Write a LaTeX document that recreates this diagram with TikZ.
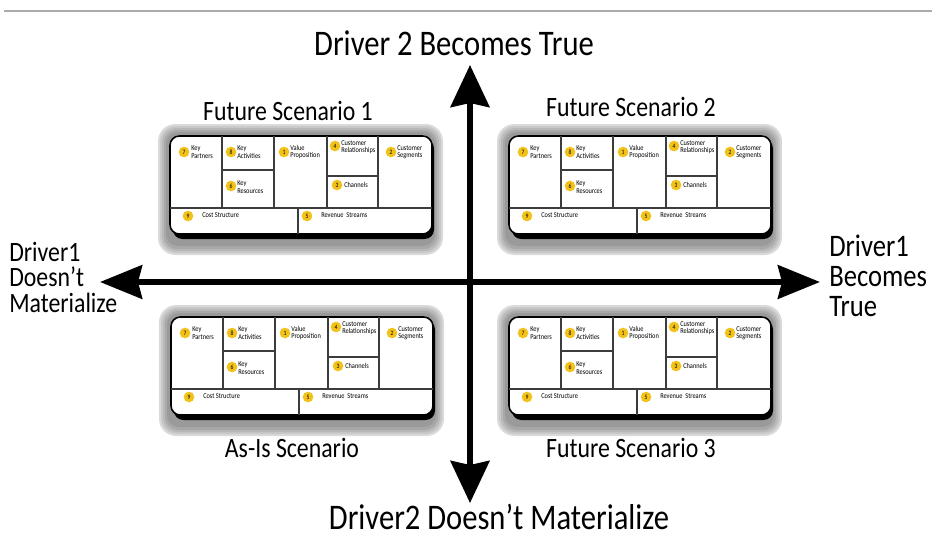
\documentclass[tikz,border=0pt]{standalone}
\usepackage{fontspec}
\newfontfamily\hand[FakeStretch=0.85]{Carlito}
\usetikzlibrary{arrows.meta}
\definecolor{blobyellow}{HTML}{F2C21A}
\definecolor{rimA}{HTML}{DADADA}
\definecolor{rimB}{HTML}{C8C8C8}
\definecolor{rimC}{HTML}{B8B8B8}
\definecolor{rimD}{HTML}{A8A8A8}
\definecolor{rimE}{HTML}{9A9A9A}
\definecolor{gridline}{HTML}{3C3C3C}
\definecolor{topline}{HTML}{AAAAAA}
\tikzset{
  blob/.style={circle, fill=blobyellow, inner sep=0pt, minimum size=8pt,
    font=\hand\fontsize{5}{5}\selectfont},
  celltext/.style={anchor=west, align=left, inner sep=0pt,
    font=\hand\fontsize{5.6}{5.6}\selectfont},
  cellline/.style={draw=gridline, line width=0.8pt},
  scenlabel/.style={inner sep=0pt, font=\hand\fontsize{21}{21}\selectfont},
  bigtitle/.style={inner sep=0pt, font=\hand\fontsize{27}{27}\selectfont},
  sidelabel/.style={inner sep=0pt, align=left, anchor=north west},
  axisarrow/.style={line width=4.5pt, black,
    {Stealth[length=31.5pt, width=#1, inset=3pt]}-{Stealth[length=31.5pt, width=#1, inset=3pt]}},
  pics/bmc/.style={code={
    % frame (layered gradient)
    \fill[rimA, rounded corners=13pt] (0,0) rectangle (285,131);
    \fill[rimB, rounded corners=12pt] (2,2) rectangle (283,129);
    \fill[rimC, rounded corners=11pt] (4,4) rectangle (281,127);
    \fill[rimD, rounded corners=10pt] (6,6) rectangle (279,125);
    \fill[rimE, rounded corners=9pt] (8,8) rectangle (277,122);
    % shadow
    \fill[black, rounded corners=7pt] (15,15) rectangle (276,115);
    % board
    \draw[fill=white, line width=1.2pt, rounded corners=7pt] (12,12) rectangle (274,110);
    % grid
    \draw[cellline] (64,12) -- (64,84);
    \draw[cellline] (116,12) -- (116,84);
    \draw[cellline] (169,12) -- (169,84);
    \draw[cellline] (220,12) -- (220,84);
    \draw[cellline] (12,84) -- (274,84);
    \draw[cellline] (140,84) -- (140,110);
    \draw[cellline] (64,46) -- (116,46);
    \draw[cellline] (169,52) -- (220,52);
    % labels
    \node[blob] (b7) at (26,28) {7};
    \node[celltext] (t7) at (33,28) {Key\\Partners};
    \node[blob] (b8) at (73,28) {8};
    \node[celltext] (t8) at (79,28) {Key\\Activities};
    \node[blob] (b6) at (73,62) {6};
    \node[celltext] (t6) at (79,63) {Key\\Resources};
    \node[blob] (b1) at (126,28) {1};
    \node[celltext] (t1) at (132,28) {Value\\Proposition};
    \node[blob] (b4) at (177,22) {4};
    \node[celltext] (t4) at (183,23) {Customer\\Relationships};
    \node[blob] (b3) at (179,61) {3};
    \node[celltext] (t3) at (186,61) {Channels};
    \node[blob] (b2) at (233,28) {2};
    \node[celltext] (t2) at (239,28) {Customer\\Segments};
    \node[blob] (b9) at (30,92) {9};
    \node[celltext] (t9) at (44,91) {Cost Structure};
    \node[blob] (b5) at (149,92) {5};
    \node[celltext] (t5) at (163,91) {Revenue\ \ Streams};
  }}
}
\begin{document}
\begin{tikzpicture}[x=0.75pt, y=-0.75pt]
\useasboundingbox (0,0) rectangle (932,539);
\fill[white] (0,0) rectangle (932,539);
\draw[topline, line width=1.2pt] (4,11) -- (932,11);

% canvases
\pic (tl) at (158,124) {bmc};
\pic (tr) at (497,124) {bmc};
\pic (bl) at (159,305) {bmc};
\pic (br) at (497,305) {bmc};

% axes
\coordinate (top) at (470,65);
\coordinate (bottom) at (470,503);
\coordinate (left) at (100,282);
\coordinate (right) at (820,282);
\draw[axisarrow=29pt] (bottom) -- (top);
\draw[axisarrow=25pt] (left) -- (right);

% axis labels
\node[bigtitle] (d2true) at (454,43) {Driver 2 Becomes True};
\node[inner sep=0pt, font=\hand\fontsize{27}{27}\selectfont] (d2not) at (499,517) {Driver2 Doesn’t Materialize};
\node[sidelabel, font=\hand\fontsize{21}{19}\selectfont] (d1not) at (9,242) {Driver1\\Doesn’t\\Materialize};
\node[sidelabel, font=\hand\fontsize{23.5}{22.5}\selectfont] (d1true) at (829,235) {Driver1\\Becomes\\True};

% scenario labels
\node[scenlabel] (s1) at (288,111) {Future Scenario 1};
\node[scenlabel] (s2) at (631,107) {Future Scenario 2};
\node[scenlabel] (s0) at (292,448) {As-Is Scenario};
\node[scenlabel] (s3) at (631,448) {Future Scenario 3};
\end{tikzpicture}
\end{document}
